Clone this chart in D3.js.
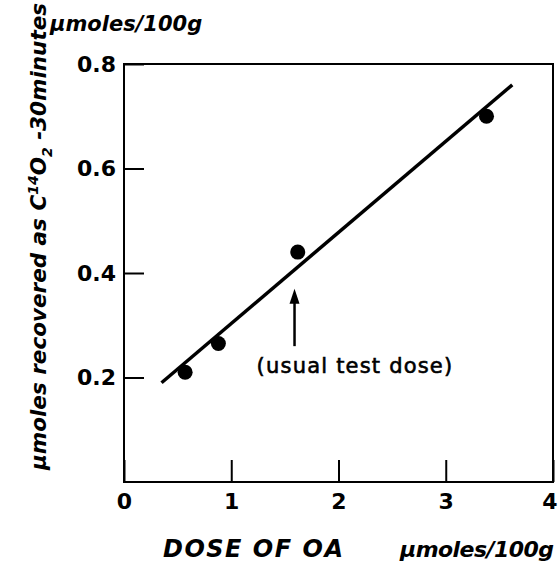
<!DOCTYPE html>
<html>
<head>
<meta charset="utf-8">
<script src="https://cdn.jsdelivr.net/npm/d3@7"></script>
<style>
  body { margin: 0; background: #fff; }
  text { font-family: 'DejaVu Sans', sans-serif; fill: #000; }
</style>
</head>
<body>
<div class="viz"></div>
<script>
// values
const doses = [0.57, 0.88, 1.62, 3.38]
const recovered = [0.21, 0.265, 0.44, 0.70]
const fitDose = [0.35, 3.62]
const fitRecovered = [0.19, 0.76]
const testDose = 1.59
const arrowRange = [0.26, 0.37]
const xTicks = [0, 1, 2, 3, 4]
const yTicks = [0.2, 0.4, 0.6, 0.8]

const width = 558, height = 565

const svg = d3.select('.viz')
  .append('svg')
    .attr('width', width)
    .attr('height', height)

const x = d3.scaleLinear().domain([0, 4]).range([124, 553])
const y = d3.scaleLinear().domain([0, 0.8]).range([482, 64])

// frame
svg.append('rect')
  .attr('x', x(0)).attr('y', y(0.8))
  .attr('width', x(4) - x(0)).attr('height', y(0) - y(0.8))
  .attr('fill', 'none').attr('stroke', '#000').attr('stroke-width', 2)

// axes with inward ticks
const xAxis = svg.append('g')
  .attr('transform', `translate(0,${y(0)})`)
  .call(d3.axisBottom(x).tickValues(xTicks).tickSize(-22).tickSizeOuter(0).tickPadding(11)
    .tickFormat(d3.format('d')))
xAxis.select('.domain').remove()
// last label sits against the page edge
xAxis.selectAll('.tick text').filter(d => d === 4)
  .attr('text-anchor', 'end').attr('x', 4)

const yAxis = svg.append('g')
  .attr('transform', `translate(${x(0)},0)`)
  .call(d3.axisLeft(y).tickValues(yTicks).tickSize(-20).tickSizeOuter(0).tickPadding(8)
    .tickFormat(d3.format('.1f')))
yAxis.select('.domain').remove()

svg.selectAll('.tick line').attr('stroke', '#000').attr('stroke-width', 2)
svg.selectAll('.tick text')
  .attr('font-family', 'DejaVu Sans, sans-serif')
  .attr('font-size', 22)
  .attr('font-weight', 'bold')
  .attr('fill', '#000')

// fitted line
svg.append('line')
  .attr('x1', x(fitDose[0])).attr('y1', y(fitRecovered[0]))
  .attr('x2', x(fitDose[1])).attr('y2', y(fitRecovered[1]))
  .attr('stroke', '#000').attr('stroke-width', 3.5)

// data points
svg.selectAll('circle.pt')
  .data(doses.map((d, i) => ({ dose: d, value: recovered[i] })))
  .enter().append('circle')
    .attr('class', 'pt')
    .attr('cx', d => x(d.dose))
    .attr('cy', d => y(d.value))
    .attr('r', 7.5)
    .attr('fill', '#000')

// arrow for usual test dose
const ax = x(testDose)
svg.append('line')
  .attr('x1', ax).attr('x2', ax)
  .attr('y1', y(arrowRange[0])).attr('y2', y(arrowRange[1]) + 12)
  .attr('stroke', '#000').attr('stroke-width', 2.5)
svg.append('path')
  .attr('d', `M${ax},${y(arrowRange[1])} L${ax - 5},${y(arrowRange[1]) + 15} L${ax + 5},${y(arrowRange[1]) + 15} Z`)
  .attr('fill', '#000')

svg.append('text')
  .attr('x', 355).attr('y', 373)
  .attr('text-anchor', 'middle')
  .attr('font-size', 21)
  .attr('letter-spacing', 1.2)
  .attr('stroke', '#000').attr('stroke-width', 0.6)
  .text('(usual test dose)')

// axis titles
const titleStyle = sel => sel
  .attr('font-weight', 'bold')
  .attr('font-style', 'italic')
  .attr('lengthAdjust', 'spacing')

svg.append('text')
  .attr('x', 163).attr('y', 557)
  .call(titleStyle)
  .attr('font-size', 24)
  .attr('textLength', 180)
  .text('DOSE OF OA')

svg.append('text')
  .attr('x', 400).attr('y', 557)
  .call(titleStyle)
  .attr('font-size', 22)
  .attr('textLength', 154)
  .text('μmoles/100g')

svg.append('text')
  .attr('x', 50).attr('y', 31)
  .attr('font-size', 21)
  .attr('font-weight', 'bold')
  .attr('font-style', 'italic')
  .text('μmoles/100g')

const yTitle = svg.append('text')
  .attr('transform', 'translate(46,470) rotate(-90)')
  .attr('font-size', 21.5)
  .attr('font-weight', 'bold')
  .attr('font-style', 'italic')
yTitle.append('tspan').text('μmoles recovered as C')
yTitle.append('tspan').attr('dy', -8).attr('font-size', 14).text('14')
yTitle.append('tspan').attr('dy', 8).text('O')
yTitle.append('tspan').attr('dy', 6).attr('font-size', 14).text('2')
yTitle.append('tspan').attr('dy', -6).text(' -30minutes')
</script>
</body>
</html>
